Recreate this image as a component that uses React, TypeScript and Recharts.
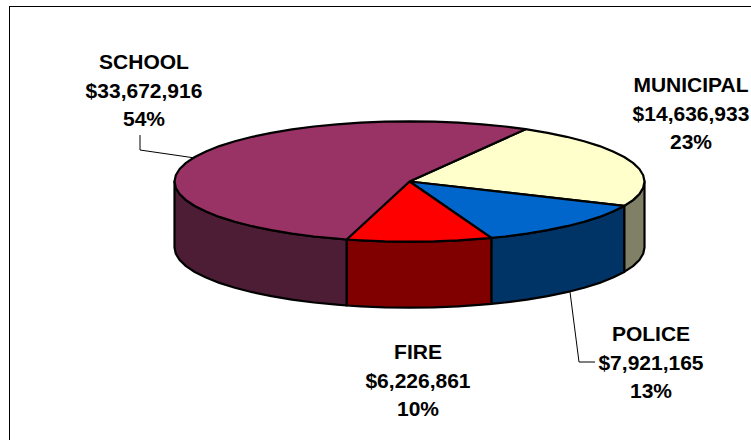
import { PieChart, Pie } from 'recharts';

const sliceNames = ['MUNICIPAL', 'POLICE', 'FIRE', 'SCHOOL'];
const sliceValues = [14636933, 7921165, 6226861, 33672916];
const topColors = ['#FFFFCC', '#0066CC', '#FF0000', '#993366'];
const sideColors = ['#808066', '#003366', '#800000', '#4D1D36'];

const data = sliceNames.map((name, i) => ({
  name,
  value: sliceValues[i],
  fill: topColors[i],
  side: sideColors[i],
}));

// the pie is drawn as a flattened disc, so the radius only sets the width
const TILT = 0.256;
const DEPTH = 66;
const STEP = 6;

const labelSpots = [
  { x: 691, y: 85 },
  { x: 651, y: 334 },
  { x: 418, y: 352 },
  { x: 144, y: 62 },
];

const leaderLines = ['', '570,292 579,362 595,362', '', '140,135 140,150 195,158'];

function arcPoints(cx: number, cy: number, r: number, from: number, to: number) {
  const pts: [number, number][] = [];
  const rad = Math.PI / 180;
  let a = from;
  while (a < to) {
    pts.push([cx + r * Math.cos(a * rad), cy - r * TILT * Math.sin(a * rad)]);
    a = (Math.floor(a / STEP) + 1) * STEP;
  }
  pts.push([cx + r * Math.cos(to * rad), cy - r * TILT * Math.sin(to * rad)]);
  return pts;
}

const toPath = (pts: [number, number][]) =>
  pts.map((p, i) => `${i === 0 ? 'M' : 'L'}${p[0].toFixed(1)},${p[1].toFixed(1)}`).join(' ');

function DiscSlice(props: any) {
  const { cx, cy, outerRadius, startAngle, endAngle, fill, side } = props;
  const lo = Math.min(startAngle, endAngle);
  const hi = Math.max(startAngle, endAngle);

  // front wall: only the part of the slice facing the viewer (180..360 and the same one turn lower)
  const walls = [];
  for (const [a, b] of [[-180, 0], [-540, -360]]) {
    const from = Math.max(lo, a);
    const to = Math.min(hi, b);
    if (to > from) {
      const edge = arcPoints(cx, cy, outerRadius, from, to);
      const lower = edge.map(([x, y]) => [x, y + DEPTH] as [number, number]).reverse();
      walls.push(toPath([...edge, ...lower]) + ' Z');
    }
  }

  const top = toPath([[cx, cy], ...arcPoints(cx, cy, outerRadius, lo, hi)]) + ' Z';

  return (
    <g>
      {walls.map((d, i) => (
        <path key={i} d={d} fill={side} stroke="#000" strokeWidth={2.2} strokeLinejoin="round" />
      ))}
      <path d={top} fill={fill} stroke="#000" strokeWidth={2.2} strokeLinejoin="round" />
    </g>
  );
}

function SliceLabel(props: any) {
  const { index, name, value, percent } = props;
  const spot = labelSpots[index];
  const lines = [name, `$${Number(value).toLocaleString('en-US')}`, `${Math.round(percent * 100)}%`];
  return (
    <g>
      {leaderLines[index] && <polyline points={leaderLines[index]} fill="none" stroke="#000" strokeWidth={1} />}
      {lines.map((line, i) => (
        <text
          key={i}
          x={spot.x}
          y={spot.y + 7 + i * 28.5}
          textAnchor="middle"
          fontFamily="'Liberation Sans', Arial, sans-serif"
          fontWeight="bold"
          fontSize={21}
          fill="#000"
        >
          {line}
        </text>
      ))}
    </g>
  );
}

export default function App() {
  return (
    <div style={{ position: 'absolute', left: 0, top: 0, width: 751, height: 440, overflow: 'hidden', background: '#fff' }}>
      <div style={{ position: 'absolute', left: 9, top: 6, width: 760, height: 450, border: '1px solid #000', boxSizing: 'border-box' }} />
      <PieChart
        width={751}
        height={440}
        margin={{ top: 0, right: 0, bottom: 0, left: 0 }}
        style={{ position: 'absolute', left: 0, top: 0 }}
      >
        <Pie
          data={data}
          dataKey="value"
          nameKey="name"
          cx={409.5}
          cy={181.5}
          innerRadius={0}
          outerRadius={235}
          startAngle={60.4}
          endAngle={-299.6}
          shape={DiscSlice}
          label={SliceLabel}
          labelLine={false}
          isAnimationActive={false}
        />
      </PieChart>
    </div>
  );
}
